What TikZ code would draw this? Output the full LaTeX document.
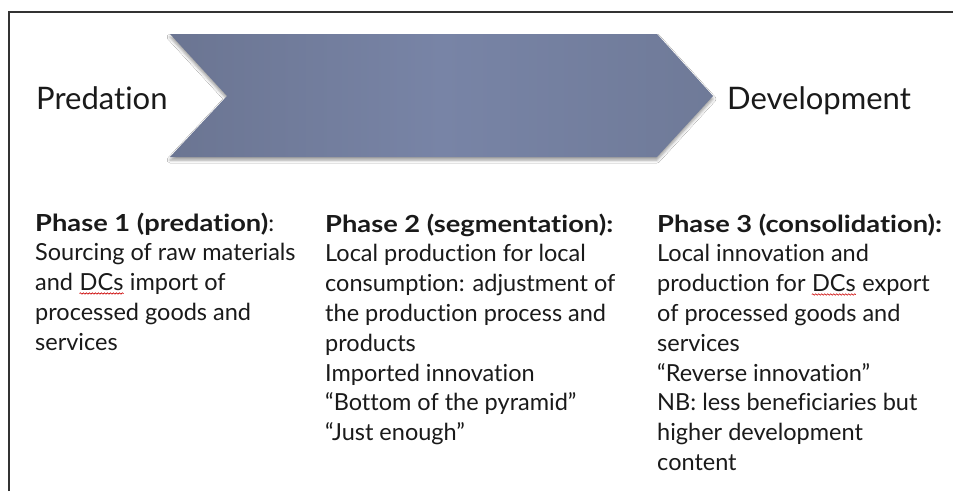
\documentclass[tikz,border=0pt]{standalone}
\usepackage{fontspec}
\setmainfont{Lato}[Ligatures={TeX,NoCommon}]
\usetikzlibrary{shadows.blur,decorations.pathmorphing}
\definecolor{chevL}{HTML}{6B7592}
\definecolor{chevM}{HTML}{7884A6}
\definecolor{chevR}{HTML}{6F7A98}
\definecolor{framecol}{HTML}{333333}
\definecolor{txt}{HTML}{1A1A1A}
\newcommand{\spellerr}[2]{\tikz[baseline=(#1.base)]{\node[inner sep=0pt](#1){#2};\draw[red!80!black,line width=0.6pt,decorate,decoration={snake,amplitude=0.7pt,segment length=3pt}] ([yshift=-2.5pt]#1.south west) -- ([yshift=-2.5pt]#1.south east);}}
\newcommand{\phasehead}[1]{\scalebox{1.16}[1]{\textbf{#1}}}
\begin{document}
\begin{tikzpicture}[x=1pt,y=1pt,
  bigtext/.style={font=\fontsize{31}{33}\selectfont, text=txt, inner sep=0pt, anchor=base west},
  coltext/.style={font=\fontsize{23.5}{29.8}\selectfont, text=txt, inner sep=0pt, anchor=base west, align=left},
  framelines/.style={draw=framecol, line width=1.5pt}]
\useasboundingbox[fill=white] (0,0) rectangle (953,-491);
\draw[framelines] (9,-491) -- (9,-12) -- (953,-12);
\path[left color=chevL, right color=chevR, middle color=chevM,
  blur shadow={shadow xshift=0pt, shadow yshift=-3pt, shadow blur radius=3pt, shadow opacity=40}]
  (170,-34) -- (657,-34) -- (713,-96) -- (657,-157) -- (170,-157) -- (227,-96) -- cycle;
\node[bigtext] (pred) at (36,-109) {Predation};
\node[bigtext] (dev) at (727,-109) {Development};
% base anchor of a multi-line node = baseline of its last line
\node[coltext] (c1) at (35,-350.2) {\phasehead{Phase 1 (predation)}:\\
Sourcing of raw materials\\
and \spellerr{dc1}{DCs} import of\\
processed goods and\\
services};
\node[coltext] (c2) at (325,-440.6) {\phasehead{Phase 2 (segmentation):}\\
Local production for local\\
consumption: adjustment of\\
the production process and\\
products\\
Imported innovation\\
“Bottom of the pyramid”\\
“Just enough”};
\node[coltext] (c3) at (657,-470.4) {\phasehead{Phase 3 (consolidation):}\\
Local innovation and\\
production for \spellerr{dc2}{DCs} export\\
of processed goods and\\
services\\
“Reverse innovation”\\
NB: less beneficiaries but\\
higher development\\
content};
\end{tikzpicture}
\end{document}
